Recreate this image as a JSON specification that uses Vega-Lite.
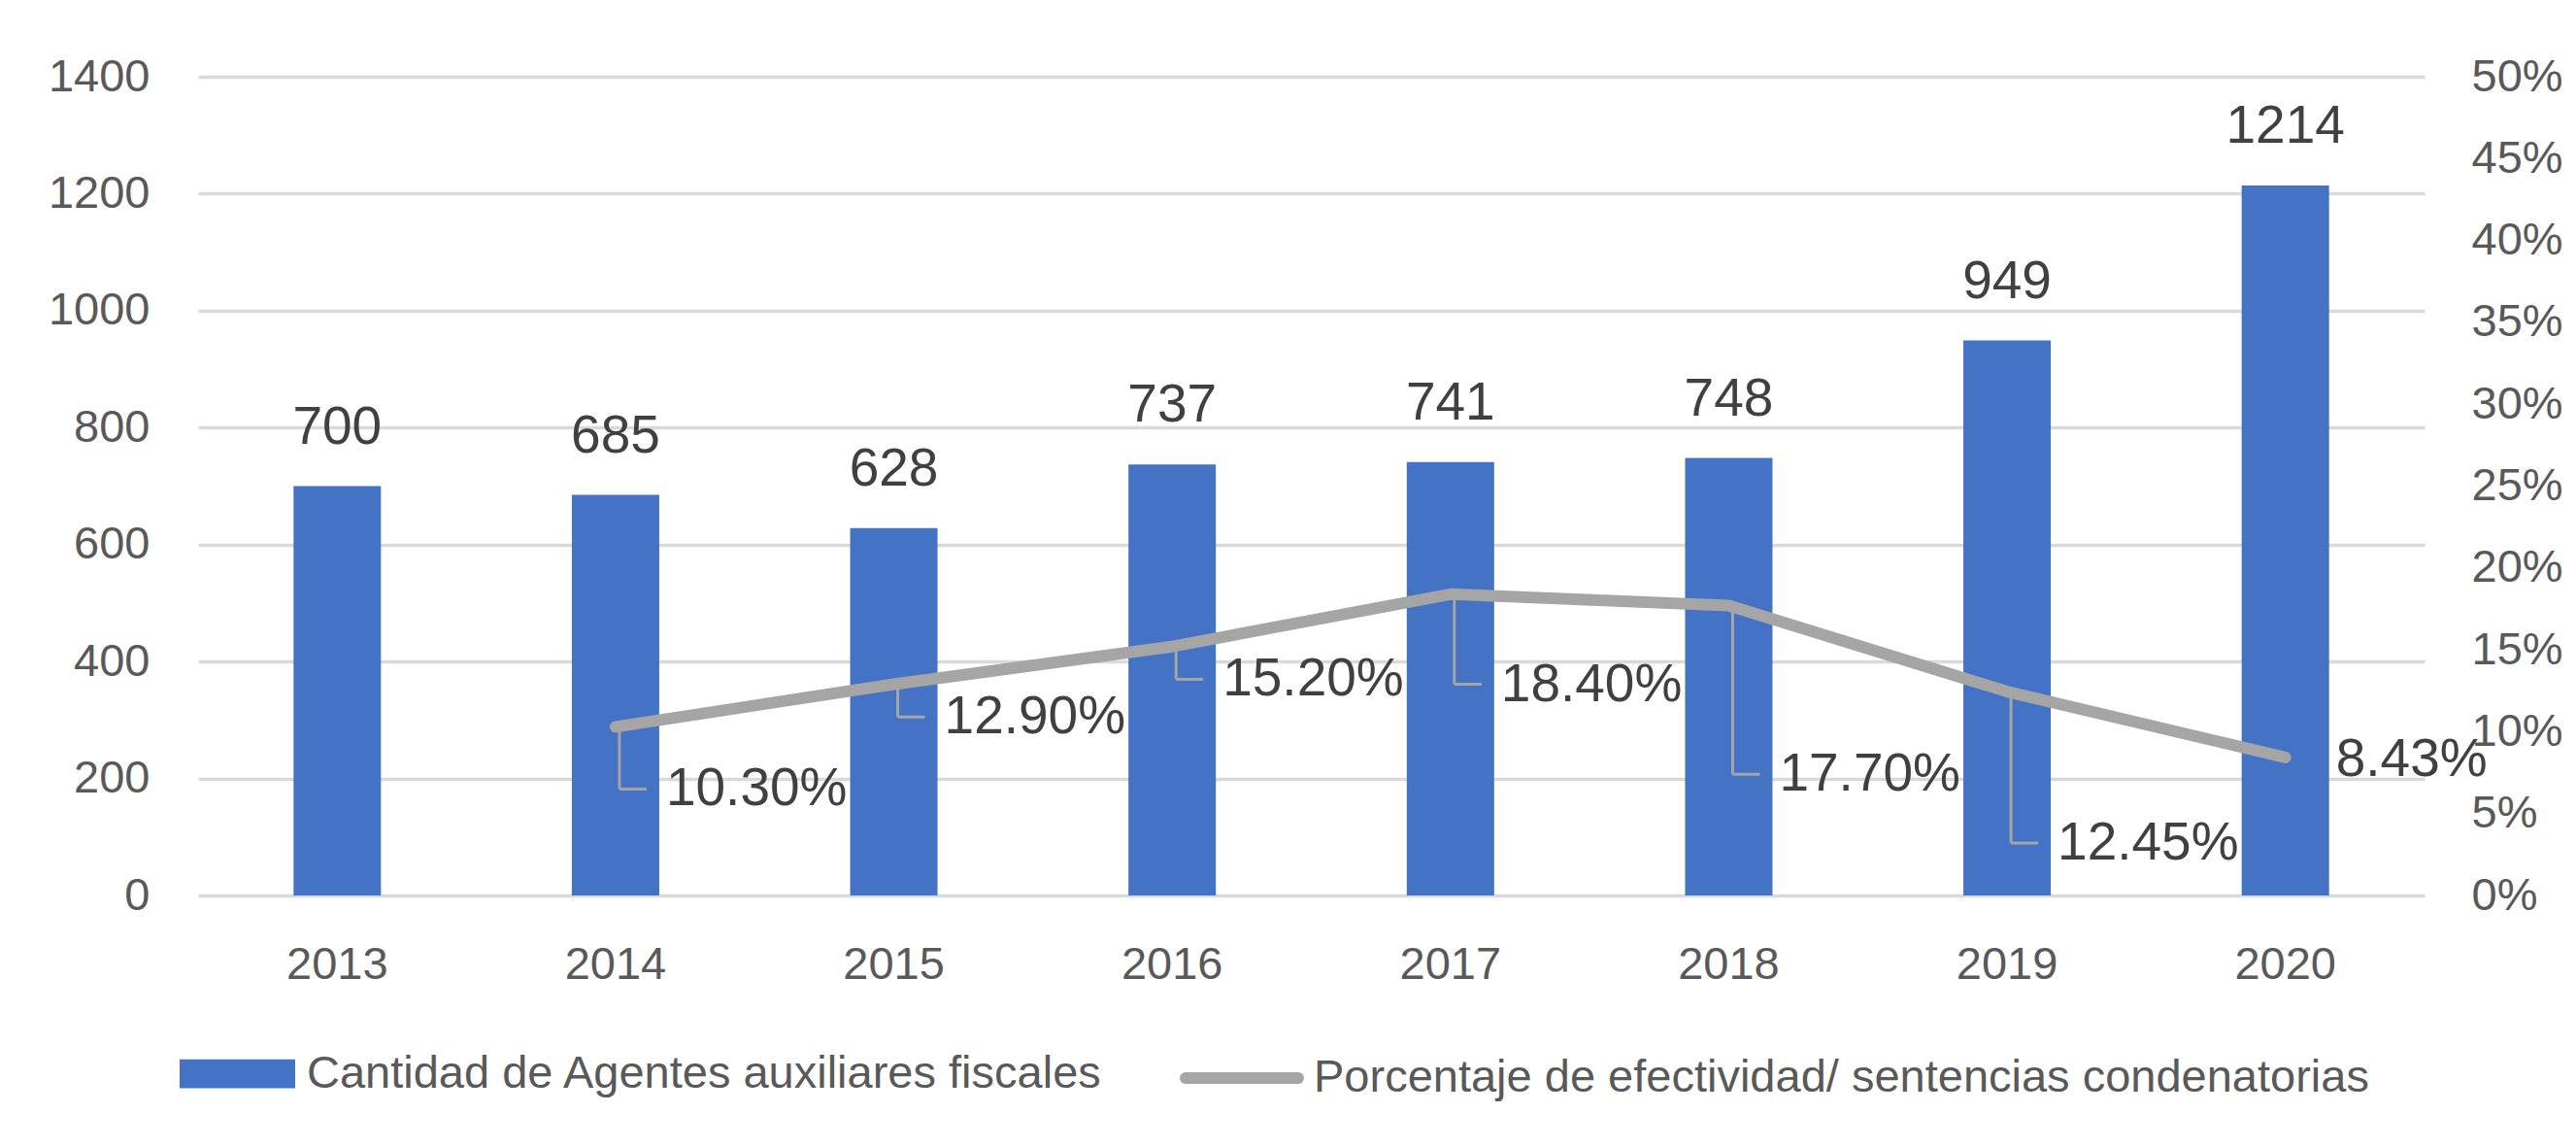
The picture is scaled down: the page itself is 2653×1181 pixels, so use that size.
{
  "$schema": "https://vega.github.io/schema/vega-lite/v6.json",
  "width": 2293,
  "height": 843,
  "autosize": {"type": "none"},
  "padding": {"left": 204, "top": 79, "right": 156, "bottom": 259},
  "background": "white",
  "config": {
    "view": {"stroke": null},
    "font": "Liberation Sans",
    "legend": {"padding": 0}
  },
  "data": {
    "values": [
      {"anio": "2013", "agentes": 700, "pct": null, "pos_etiqueta": null},
      {"anio": "2014", "agentes": 685, "pct": 0.103, "pos_etiqueta": 0.065},
      {"anio": "2015", "agentes": 628, "pct": 0.129, "pos_etiqueta": 0.109},
      {"anio": "2016", "agentes": 737, "pct": 0.152, "pos_etiqueta": 0.132},
      {"anio": "2017", "agentes": 741, "pct": 0.184, "pos_etiqueta": 0.129},
      {"anio": "2018", "agentes": 748, "pct": 0.177, "pos_etiqueta": 0.074},
      {"anio": "2019", "agentes": 949, "pct": 0.1245, "pos_etiqueta": 0.032},
      {"anio": "2020", "agentes": 1214, "pct": 0.0843, "pos_etiqueta": 0.083}
    ]
  },
  "encoding": {
    "x": {
      "field": "anio",
      "type": "ordinal",
      "scale": {"paddingInner": 0.686, "paddingOuter": 0.343},
      "axis": {
        "title": null,
        "domain": false,
        "ticks": false,
        "grid": false,
        "labelAngle": 0,
        "labelFontSize": 47,
        "labelColor": "#595959",
        "labelPadding": 48
      }
    }
  },
  "layer": [
    {
      "encoding": {
        "y": {
          "field": "agentes",
          "type": "quantitative",
          "scale": {"domain": [0, 1400], "nice": false},
          "axis": {
            "orient": "left",
            "title": null,
            "format": "d",
            "values": [0, 200, 400, 600, 800, 1000, 1200, 1400],
            "grid": true,
            "gridColor": "#D9D9D9",
            "gridWidth": 3.5,
            "domain": false,
            "ticks": false,
            "labelFontSize": 47,
            "labelColor": "#595959",
            "labelPadding": 50
          }
        }
      },
      "layer": [
        {
          "mark": {"type": "bar"},
          "encoding": {
            "fill": {
              "datum": "Cantidad de Agentes auxiliares fiscales",
              "type": "nominal",
              "scale": {"range": ["#4472C4"]},
              "legend": {
                "title": null,
                "orient": "none",
                "legendX": -19,
                "legendY": 967,
                "symbolType": "M-1,-0.25H1V0.25H-1Z",
                "symbolSize": 14161,
                "symbolStrokeWidth": 0,
                "labelFontSize": 47,
                "labelColor": "#595959",
                "labelOffset": 12,
                "labelLimit": 2000
              }
            }
          }
        },
        {
          "mark": {"type": "text", "fontSize": 55, "color": "#404040", "baseline": "alphabetic", "dy": -44},
          "encoding": {
            "text": {"field": "agentes", "type": "quantitative"}
          }
        }
      ]
    },
    {
      "transform": [{"filter": "datum.pct != null"}],
      "encoding": {
        "y": {
          "field": "pct",
          "type": "quantitative",
          "scale": {"domain": [0, 0.5], "nice": false},
          "axis": {
            "orient": "right",
            "title": null,
            "values": [0, 0.05, 0.1, 0.15, 0.2, 0.25, 0.3, 0.35, 0.4, 0.45, 0.5],
            "format": ".0%",
            "grid": false,
            "domain": false,
            "ticks": false,
            "labelFontSize": 47,
            "labelColor": "#595959",
            "labelPadding": 48
          }
        }
      },
      "layer": [
        {
          "mark": {"type": "line", "strokeWidth": 12, "strokeCap": "round", "strokeJoin": "round"},
          "encoding": {
            "stroke": {
              "datum": "Porcentaje de efectividad/ sentencias condenatorias",
              "type": "nominal",
              "scale": {"range": ["#A5A5A5"]},
              "legend": {
                "title": null,
                "orient": "none",
                "legendX": 1011,
                "legendY": 967,
                "symbolType": "stroke",
                "symbolSize": 13456,
                "symbolStrokeWidth": 12,
                "labelFontSize": 47,
                "labelColor": "#595959",
                "labelOffset": 10,
                "labelLimit": 2000,
                "encode": {"symbols": {"update": {"strokeCap": {"value": "round"}}}}
              }
            }
          }
        },
        {
          "transform": [{"filter": "abs(datum.pct - datum.pos_etiqueta) > 0.005"}],
          "mark": {"type": "rule", "color": "#A5A5A5", "strokeWidth": 3, "xOffset": 4},
          "encoding": {
            "y2": {"field": "pos_etiqueta"}
          }
        },
        {
          "transform": [{"filter": "abs(datum.pct - datum.pos_etiqueta) > 0.005"}],
          "mark": {"type": "rule", "color": "#A5A5A5", "strokeWidth": 3, "xOffset": 4, "x2Offset": 32},
          "encoding": {
            "x2": {"field": "anio"},
            "y": {"field": "pos_etiqueta", "type": "quantitative"}
          }
        },
        {
          "mark": {"type": "text", "fontSize": 55, "color": "#404040", "align": "left", "baseline": "middle", "xOffset": 52},
          "encoding": {
            "y": {"field": "pos_etiqueta", "type": "quantitative"},
            "text": {"field": "pct", "type": "quantitative", "format": ".2%"}
          }
        }
      ]
    }
  ],
  "resolve": {"scale": {"y": "independent"}}
}
